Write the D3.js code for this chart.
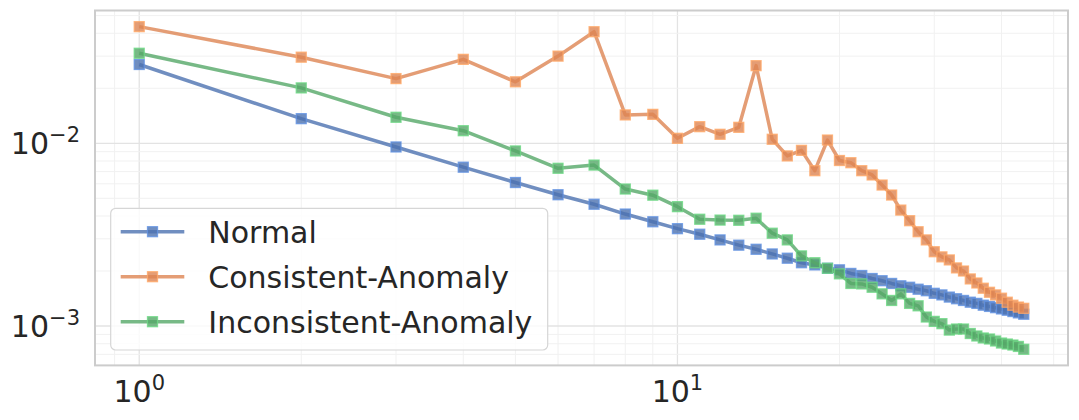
<!DOCTYPE html>
<html>
<head>
<meta charset="utf-8">
<script src="https://cdn.jsdelivr.net/npm/d3@7"></script>
<style>
  body { margin: 0; background: #fff; }
  text { font-family: 'DejaVu Sans', sans-serif; fill: #262626; }
</style>
</head>
<body>
<div id="chart-area"></div>
<script>
// series values, x = 1..44
const normal = [0.027, 0.01364, 0.00955, 0.0074, 0.0061, 0.00523, 0.00464, 0.0041, 0.00372, 0.00341,
  0.00318, 0.00296, 0.00277, 0.00263, 0.00248, 0.00235, 0.00222, 0.00216, 0.00207, 0.00203,
  0.00194, 0.00189, 0.00182, 0.00177, 0.00171, 0.00166, 0.00163, 0.00159, 0.00156, 0.00151,
  0.00148, 0.00144, 0.00141, 0.00138, 0.00135, 0.00133, 0.0013, 0.00128, 0.00126, 0.00124,
  0.00122, 0.0012, 0.00118, 0.00116];
const consistent = [0.0435, 0.0296, 0.0226, 0.0288, 0.0217, 0.03, 0.0408, 0.0143, 0.0144, 0.01065,
  0.01233, 0.0112, 0.01223, 0.0266, 0.01052, 0.00853, 0.00915, 0.00708, 0.01042, 0.00805,
  0.00783, 0.00708, 0.00671, 0.00591, 0.00521, 0.00431, 0.00377, 0.00328, 0.00296, 0.00255,
  0.00239, 0.0023, 0.00208, 0.002, 0.00181, 0.00172, 0.00161, 0.00153, 0.00148, 0.00142,
  0.00135, 0.0013, 0.00127, 0.00125];
const inconsistent = [0.0311, 0.0201, 0.01388, 0.01172, 0.00908, 0.0073, 0.0076, 0.00562, 0.0052, 0.0045,
  0.00384, 0.0038, 0.00379, 0.00389, 0.00322, 0.00296, 0.00242, 0.00222, 0.00207, 0.00193,
  0.00171, 0.0017, 0.00163, 0.0015, 0.00138, 0.0015, 0.00133, 0.00129, 0.00112, 0.00106,
  0.00103, 0.00095, 0.000963, 0.000963, 0.00091, 0.000882, 0.00086, 0.000849, 0.000828, 0.000807,
  0.000797, 0.000787, 0.000773, 0.000746];

const seriesNames = ['Normal', 'Consistent-Anomaly', 'Inconsistent-Anomaly'];
const seriesValues = [normal, consistent, inconsistent];
const colors = ['#4C72B0', '#DD8452', '#55A868'];

const margins = { top: 10.5, right: 11, bottom: 54.6, left: 95 };
const width = 1079 - margins.left - margins.right;
const height = 420 - margins.top - margins.bottom;
const ms = 10;

const svg = d3.select('#chart-area')
  .append('svg')
  .attr('width', 1079)
  .attr('height', 420);

const g = svg.append('g')
  .attr('transform', 'translate(' + margins.left + ', ' + margins.top + ')');

const xs = normal.map((d, i) => i + 1);

// log-space padding like matplotlib (5%)
function padLog(lo, hi) {
  const a = Math.log10(lo), b = Math.log10(hi), m = (b - a) * 0.05;
  return [Math.pow(10, a - m), Math.pow(10, b + m)];
}

const allVals = [].concat(normal, consistent, inconsistent);
const x = d3.scaleLog()
  .domain(padLog(d3.min(xs), d3.max(xs)))
  .range([0, width]);
const y = d3.scaleLog()
  .domain(padLog(d3.min(allVals), d3.max(allVals)))
  .range([height, 0]);

const isMajor = (v) => Math.abs(Math.log10(v) - Math.round(Math.log10(v))) < 1e-9;

// grid
const xt = x.ticks();
const yt = y.ticks();
g.selectAll('.xgrid').data(xt).enter().append('line')
  .attr('x1', (d) => x(d)).attr('x2', (d) => x(d))
  .attr('y1', 0).attr('y2', height)
  .attr('stroke', (d) => isMajor(d) ? '#e3e3e3' : '#f1f1f1')
  .attr('stroke-width', (d) => isMajor(d) ? 1.3 : 1);
g.selectAll('.ygrid').data(yt).enter().append('line')
  .attr('y1', (d) => y(d)).attr('y2', (d) => y(d))
  .attr('x1', 0).attr('x2', width)
  .attr('stroke', (d) => isMajor(d) ? '#e3e3e3' : '#f1f1f1')
  .attr('stroke-width', (d) => isMajor(d) ? 1.3 : 1);

// spines
g.append('rect')
  .attr('width', width).attr('height', height)
  .attr('fill', 'none').attr('stroke', '#cccccc').attr('stroke-width', 2);

// tick labels
const xMajor = xt.filter(isMajor);
const yMajor = yt.filter(isMajor);
xMajor.forEach((d) => {
  const t = g.append('text')
    .attr('x', x(d)).attr('y', height + 37)
    .attr('text-anchor', 'middle')
    .attr('font-size', 30);
  t.append('tspan').text('10');
  t.append('tspan').attr('dy', -12).attr('font-size', 21).text(Math.round(Math.log10(d)));
});
yMajor.forEach((d) => {
  const t = g.append('text')
    .attr('x', -15).attr('y', y(d) + 11)
    .attr('text-anchor', 'end')
    .attr('font-size', 30);
  t.append('tspan').text('10');
  t.append('tspan').attr('dy', -12).attr('font-size', 21).text('\u2212' + Math.abs(Math.round(Math.log10(d))));
});

// series
const line = d3.line()
  .x((d, i) => x(xs[i]))
  .y((d) => y(d));

seriesValues.forEach((vals, k) => {
  const s = g.append('g');
  s.append('path')
    .attr('d', line(vals))
    .attr('fill', 'none')
    .attr('stroke', colors[k])
    .attr('stroke-opacity', 0.8)
    .attr('stroke-width', 3.5)
    .attr('stroke-linejoin', 'round');
  s.selectAll('rect')
    .data(vals)
    .enter()
    .append('rect')
    .attr('x', (d, i) => x(xs[i]) - ms / 2)
    .attr('y', (d) => y(d) - ms / 2)
    .attr('width', ms)
    .attr('height', ms)
    .attr('fill', colors[k])
    .attr('fill-opacity', 0.8)
    .attr('stroke', d3.color(colors[k]).brighter(0.7))
    .attr('stroke-opacity', 0.8)
    .attr('stroke-width', 1.3);
});

// legend
const lg = svg.append('g').attr('transform', 'translate(110.7, 208.3)');
lg.append('rect')
  .attr('width', 437).attr('height', 141.7)
  .attr('rx', 5)
  .attr('fill', '#fff').attr('fill-opacity', 0.8)
  .attr('stroke', '#d6d6d6').attr('stroke-width', 1.2);
seriesNames.forEach((name, k) => {
  const yy = 23.4 + k * 45;
  lg.append('line')
    .attr('x1', 10).attr('x2', 73.6)
    .attr('y1', yy).attr('y2', yy)
    .attr('stroke', colors[k]).attr('stroke-opacity', 0.8).attr('stroke-width', 3.5);
  lg.append('rect')
    .attr('x', 41.8 - ms / 2).attr('y', yy - ms / 2)
    .attr('width', ms).attr('height', ms)
    .attr('fill', colors[k]).attr('fill-opacity', 0.8)
    .attr('stroke', d3.color(colors[k]).brighter(0.7)).attr('stroke-opacity', 0.8)
    .attr('stroke-width', 1.3);
  lg.append('text')
    .attr('x', 97.6).attr('y', yy + 11)
    .attr('font-size', 30)
    .text(name);
});
</script>
</body>
</html>
